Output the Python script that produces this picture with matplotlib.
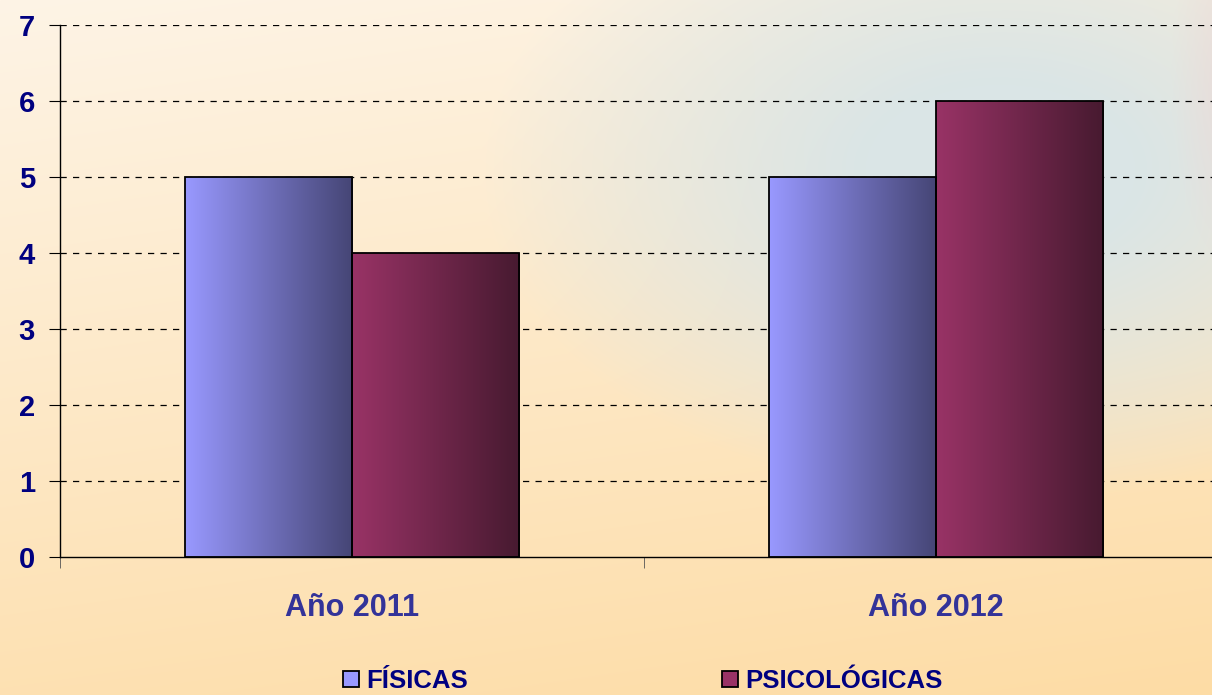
import numpy as np
import matplotlib
matplotlib.use('Agg')
import matplotlib.pyplot as plt
from matplotlib.patches import Rectangle
from matplotlib.colors import LinearSegmentedColormap

plt.rcParams['font.family'] = ['Liberation Sans', 'DejaVu Sans']
plt.rcParams['font.weight'] = 'bold'

categories = ['Año 2011', 'Año 2012']
series_names = ['FÍSICAS', 'PSICOLÓGICAS']
fisicas = [5, 5]
psicologicas = [4, 6]
yticks = [0, 1, 2, 3, 4, 5, 6, 7]

W, H = 1212, 695
fig = plt.figure(figsize=(W / 100, H / 100), dpi=100)

# background: warm cream/peach with a pale blue-grey glow top right
bg = fig.add_axes([0, 0, 1, 1], zorder=-10)
yy, xx = np.mgrid[0:H, 0:W]
t = (yy / H) * 0.8 + (xx / W) * 0.2
top = np.array([254, 244, 230]) / 255
bot = np.array([253, 220, 165]) / 255
img = top[None, None, :] * (1 - t[..., None]) + bot[None, None, :] * t[..., None]
blue = np.array([218, 229, 230]) / 255
d = np.sqrt(((xx - 1000) / 520.0) ** 2 + ((yy - 170) / 330.0) ** 2)
wgt = np.clip(1.35 * (1 - d), 0, 1) ** 0.9
img = img * (1 - wgt[..., None]) + blue[None, None, :] * wgt[..., None]
pink = np.array([235, 215, 215]) / 255
d2 = np.sqrt(((xx - 1230) / 60.0) ** 2 + ((yy - 80) / 200.0) ** 2)
w2 = np.clip(1 - d2, 0, 1) * 0.7
img = img * (1 - w2[..., None]) + pink[None, None, :] * w2[..., None]
bg.imshow(img, aspect='auto', extent=[0, 1, 0, 1])
bg.axis('off')

ax = fig.add_axes([60 / W, 138 / H, 1168 / W, 532 / H])
ax.patch.set_alpha(0)
x = np.arange(len(categories))
bw = 0.286

blue_cmap = LinearSegmentedColormap.from_list('b', ['#9999FF', '#454575'])
red_cmap = LinearSegmentedColormap.from_list('r', ['#993366', '#471A30'])
grad = np.linspace(0, 1, 256).reshape(1, -1)


def grad_bar(x0, h, cmap):
    im = ax.imshow(grad, cmap=cmap, aspect='auto', extent=[x0, x0 + bw, 0, h], zorder=2)
    r = Rectangle((x0, 0), bw, h, fill=False, edgecolor='black', linewidth=1.3, zorder=3)
    ax.add_patch(r)
    im.set_clip_path(r)


for i in x:
    grad_bar(i - bw, fisicas[i], blue_cmap)
    grad_bar(i, psicologicas[i], red_cmap)

ax.set_xlim(-0.5, 1.5)
ax.set_ylim(0, 7)
ax.set_yticks(yticks)
ax.set_yticklabels([str(v) for v in yticks], color='#000080', fontsize=21, fontweight='bold')
ax.set_xticks(x)
ax.set_xticklabels(categories, color='#333399', fontsize=22, fontweight='bold')
ax.tick_params(axis='x', which='major', length=0, pad=26)
ax.set_xticks([-0.5, 0.5, 1.5], minor=True)
ax.tick_params(axis='x', which='minor', length=8, color='#555555')
ax.tick_params(axis='y', length=8, pad=10)
for yv in yticks[1:]:
    ax.axhline(yv, color='black', linestyle=(0, (5, 5)), linewidth=0.9, zorder=1)
ax.spines['top'].set_visible(False)
ax.spines['right'].set_visible(False)
ax.spines['left'].set_linewidth(1)
ax.spines['bottom'].set_linewidth(1)

handles = [Rectangle((0, 0), 1, 1, facecolor='#9999FF', edgecolor='black', linewidth=1.3),
           Rectangle((0, 0), 1, 1, facecolor='#993366', edgecolor='black', linewidth=1.3)]
leg = fig.legend(handles, series_names, loc='center', bbox_to_anchor=(643 / W, 14 / H),
                 ncol=2, frameon=False, handlelength=0.6, handleheight=0.6,
                 handletextpad=0.3, columnspacing=9.9, borderpad=0,
                 prop={'weight': 'bold', 'size': 18.5})
for txt in leg.get_texts():
    txt.set_color('#000080')

fig.savefig('out.png', dpi=100)
